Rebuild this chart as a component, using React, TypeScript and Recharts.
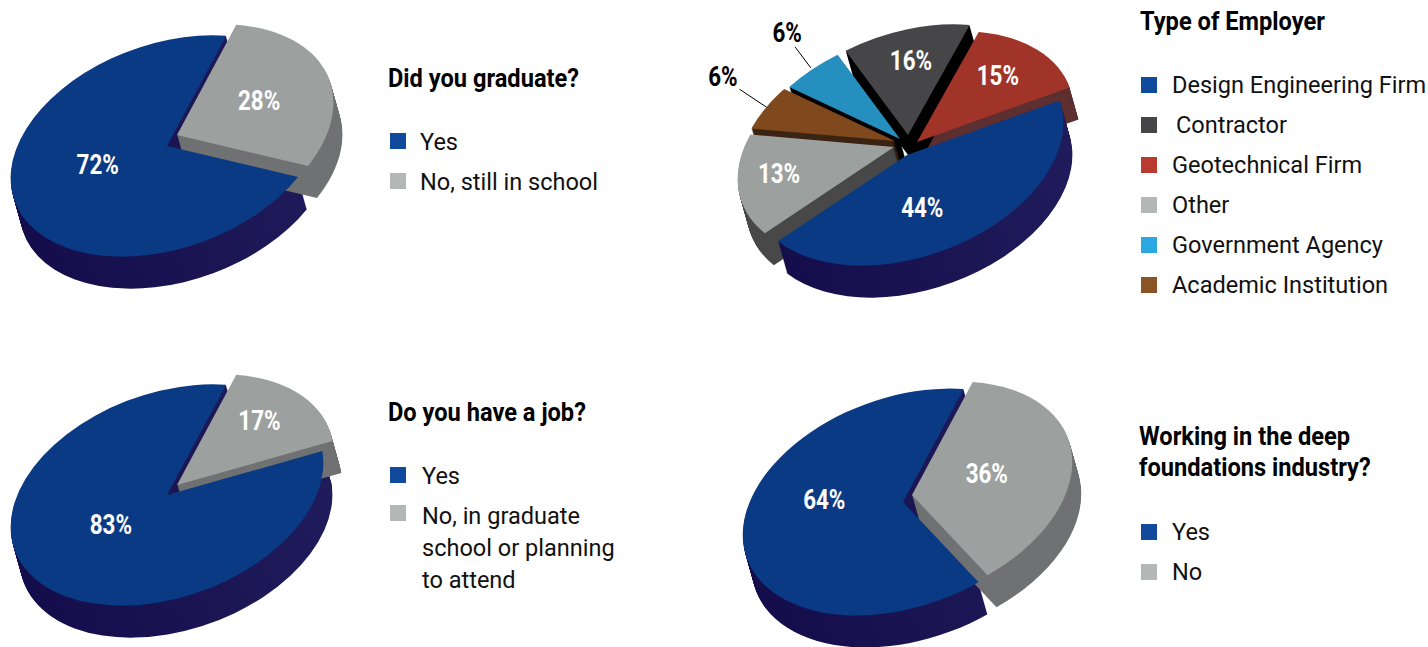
import { PieChart, Pie, Sector } from "recharts";

// ── Survey data ───────────────────────────────────────────────────────────────
const graduateNames = ["Yes", "No, still in school"];
const graduateValues = [72, 28];
const graduateLabels = ["72%", "28%"];

const jobNames = ["Yes", "No, in graduate school or planning to attend"];
const jobValues = [83, 17];
const jobLabels = ["83%", "17%"];

const industryNames = ["Yes", "No"];
const industryValues = [64, 36];
const industryLabels = ["64%", "36%"];

// Slice order runs round the pie from the right-hand edge.
const employerNames = ["Geotechnical Firm", "Contractor", "Government Agency", "Academic Institution", "Other", "Design Engineering Firm"];
// The slices as drawn: in the source the Contractor wedge is narrower than the
// Other wedge, although the printed labels say 16% and 13%.
const employerValues = [15, 13, 6, 6, 16, 44];
const employerLabels = ["15%", "16%", "6%", "6%", "13%", "44%"];

// ── Styles ────────────────────────────────────────────────────────────────────
const BLUE = "#0a3a84";
const GREY = "#9ca1a0";
const GREY_WALL = "#707172";
const NAVY_WALL = "navy-wall";
const FONT = "Roboto, sans-serif";

const TILT = 19.7;
const SQUASH = 0.631;
const DEPTH = 32;
const DRIFT = 9;

type PieSpec = {
  id: string;
  left: number;
  top: number;
  width: number;
  height: number;
  cx: number;
  cy: number;
  radius: number;
  startAngle: number;
  names: string[];
  values: number[];
  labels: string[];
  colors: string[];
  walls: string[];
  explode: number[][];
  labelFractions: number[];
  labelNudges: number[];
  // inner fraction, inner nudge, outer fraction, outer nudge
  leaders?: (number[] | null)[];
};

const twoSliceWalls = [NAVY_WALL, GREY_WALL];

const pies: PieSpec[] = [
  {
    id: "graduate", left: 0, top: 0, width: 360, height: 320, cx: 167, cy: 146, radius: 162, startAngle: 55,
    names: graduateNames, values: graduateValues, labels: graduateLabels,
    colors: [BLUE, GREY], walls: twoSliceWalls, explode: [[0, 0], [10, -11]],
    labelFractions: [0.445, 0.55], labelNudges: [-12, 0],
  },
  {
    id: "job", left: 0, top: 350, width: 360, height: 297, cx: 167, cy: 145, radius: 162, startAngle: 55,
    names: jobNames, values: jobValues, labels: jobLabels,
    colors: [BLUE, GREY], walls: twoSliceWalls, explode: [[0, 0], [10, -10]],
    labelFractions: [0.4, 0.69], labelNudges: [-11, 3],
  },
  {
    id: "employer", left: 700, top: 0, width: 400, height: 310, cx: 207, cy: 155, radius: 162, startAngle: 0,
    names: employerNames, values: employerValues, labels: employerLabels,
    colors: ["#a03428", "#464547", "#2590c0", "#80491d", GREY, BLUE],
    walls: ["#5e2f30", "#000000", "#000000", "#3c2412", "#484848", NAVY_WALL],
    explode: [[10, -13], [1, -20], [-7, -16], [-12, -14], [-13, -8], [0, 0]],
    labelFractions: [0.696, 0.7, 1.417, 1.444, 0.736, 0.535],
    labelNudges: [2.3, -1.7, -3.7, -6.3, -3, -13],
    leaders: [null, null, [1.02, -0.3, 1.265, -2.3], [1.0, -0.6, 1.27, -4.4], null, null],
  },
  {
    id: "industry", left: 730, top: 370, width: 370, height: 277, cx: 173, cy: 132, radius: 166, startAngle: 55,
    names: industryNames, values: industryValues, labels: industryLabels,
    colors: [BLUE, GREY], walls: twoSliceWalls, explode: [[0, 0], [9, -7]],
    labelFractions: [0.52, 0.47], labelNudges: [-22, 4],
  },
];

// ── Projection of the flat pie onto the tilted ellipse ────────────────────────
function faceTransform(cx: number, cy: number, ox: number, oy: number) {
  return `translate(${cx + ox} ${cy + oy}) rotate(${-TILT}) scale(1 ${SQUASH}) translate(${-cx} ${-cy})`;
}

function project(spec: PieSpec, idx: number, radius: number, angle: number) {
  const a = (angle * Math.PI) / 180;
  const t = (TILT * Math.PI) / 180;
  const x0 = radius * Math.cos(a);
  const y0 = -radius * Math.sin(a) * SQUASH;
  const [ox, oy] = spec.explode[idx];
  return {
    x: spec.cx + ox + x0 * Math.cos(t) + y0 * Math.sin(t),
    y: spec.cy + oy - x0 * Math.sin(t) + y0 * Math.cos(t),
  };
}

// ── Slice shapes ──────────────────────────────────────────────────────────────
function makeWall(spec: PieSpec) {
  return (props: any) => {
    const [ox, oy] = spec.explode[props.idx];
    const steps = [];
    for (let i = 1; i <= DEPTH; i++) steps.push(i);
    const wall = spec.walls[props.idx];
    const fill = wall === NAVY_WALL ? `url(#wall-${spec.id})` : wall;
    return (
      <g>
        {steps.map((i) => (
          <g key={i} transform={faceTransform(spec.cx, spec.cy, ox + (i * DRIFT) / DEPTH, oy + i)}>
            <Sector
              cx={spec.cx}
              cy={spec.cy}
              innerRadius={0}
              outerRadius={spec.radius}
              startAngle={props.startAngle}
              endAngle={props.endAngle}
              fill={fill}
              stroke="none"
            />
          </g>
        ))}
      </g>
    );
  };
}

function makeFace(spec: PieSpec) {
  return (props: any) => {
    const [ox, oy] = spec.explode[props.idx];
    return (
      <g transform={faceTransform(spec.cx, spec.cy, ox, oy)}>
        <Sector
          cx={spec.cx}
          cy={spec.cy}
          innerRadius={0}
          outerRadius={spec.radius}
          startAngle={props.startAngle}
          endAngle={props.endAngle}
          fill={spec.colors[props.idx]}
          stroke="none"
        />
      </g>
    );
  };
}

function makeLabel(spec: PieSpec) {
  return (props: any) => {
    const idx = props.idx;
    const pos = project(spec, idx, spec.radius * spec.labelFractions[idx], props.midAngle + spec.labelNudges[idx]);
    const leader = spec.leaders ? spec.leaders[idx] : null;
    const from = leader ? project(spec, idx, spec.radius * leader[0], props.midAngle + leader[1]) : null;
    const to = leader ? project(spec, idx, spec.radius * leader[2], props.midAngle + leader[3]) : null;
    return (
      <g>
        {from && to && <line x1={from.x} y1={from.y} x2={to.x} y2={to.y} stroke="#000" strokeWidth={1} />}
        <text
          transform={`translate(${pos.x} ${pos.y}) scale(0.83 1)`}
          textAnchor="middle"
          dominantBaseline="central"
          fontFamily={FONT}
          fontWeight={700}
          fontSize={27}
          fill={leader ? "#000" : "#fff"}
        >
          {spec.labels[idx]}
        </text>
      </g>
    );
  };
}

function Pie3D({ spec }: { spec: PieSpec }) {
  const rows = spec.names.map((name, i) => ({ name, value: spec.values[i], idx: i }));
  return (
    <div style={{ position: "absolute", left: spec.left, top: spec.top }}>
      <PieChart width={spec.width} height={spec.height} margin={{ top: 0, right: 0, bottom: 0, left: 0 }}>
        <defs>
          <linearGradient id={`wall-${spec.id}`} gradientUnits="userSpaceOnUse" x1={spec.cx - spec.radius} y1={0} x2={spec.cx + spec.radius} y2={0}>
            <stop offset="0%" stopColor="#150d4b" />
            <stop offset="100%" stopColor="#201c5b" />
          </linearGradient>
        </defs>
        <Pie
          data={rows}
          dataKey="value"
          cx={spec.cx}
          cy={spec.cy}
          outerRadius={spec.radius}
          startAngle={spec.startAngle}
          endAngle={spec.startAngle + 360}
          shape={makeWall(spec)}
          isAnimationActive={false}
        />
        <Pie
          data={rows}
          dataKey="value"
          cx={spec.cx}
          cy={spec.cy}
          outerRadius={spec.radius}
          startAngle={spec.startAngle}
          endAngle={spec.startAngle + 360}
          shape={makeFace(spec)}
          label={makeLabel(spec)}
          labelLine={false}
          isAnimationActive={false}
        />
      </PieChart>
    </div>
  );
}

// ── Titles and legends ────────────────────────────────────────────────────────
function Line({ x, y, bold, children }: { x: number; y: number; bold?: boolean; children: string }) {
  return (
    <div
      style={{
        position: "absolute",
        left: x,
        top: y - 16,
        height: 32,
        lineHeight: "32px",
        whiteSpace: "nowrap",
        fontFamily: FONT,
        fontSize: bold ? 25 : 24,
        fontWeight: bold ? 700 : 400,
        color: bold ? "#000" : "#111",
        transform: `scaleX(${bold ? 0.945 : 0.98})`,
        transformOrigin: "left center",
      }}
    >
      {children}
    </div>
  );
}

function Swatch({ x, y, color }: { x: number; y: number; color: string }) {
  return <div style={{ position: "absolute", left: x, top: y - 8, width: 16, height: 16, background: color }} />;
}

const SWATCH_BLUE = "#0f4a9c";
const SWATCH_GREY = "#b3b8b7";

export default function App() {
  return (
    <div style={{ position: "absolute", left: 0, top: 0, width: 1428, height: 647, overflow: "hidden", background: "#fff" }}>
      {pies.map((spec) => (
        <Pie3D key={spec.id} spec={spec} />
      ))}

      <Line x={388} y={79} bold>Did you graduate?</Line>
      <Swatch x={390} y={141} color={SWATCH_BLUE} />
      <Line x={420} y={142}>Yes</Line>
      <Swatch x={390} y={181} color={SWATCH_GREY} />
      <Line x={420} y={182}>No, still in school</Line>

      <Line x={388} y={413} bold>Do you have a job?</Line>
      <Swatch x={390} y={475} color={SWATCH_BLUE} />
      <Line x={422} y={476}>Yes</Line>
      <Swatch x={390} y={513} color={SWATCH_GREY} />
      <Line x={422} y={516}>No, in graduate</Line>
      <Line x={422} y={548}>school or planning</Line>
      <Line x={422} y={580}>to attend</Line>

      <Line x={1140} y={22} bold>Type of Employer</Line>
      <Swatch x={1141} y={85} color={SWATCH_BLUE} />
      <Line x={1172} y={85}>Design Engineering Firm</Line>
      <Swatch x={1141} y={125} color="#464547" />
      <Line x={1176} y={125}>Contractor</Line>
      <Swatch x={1141} y={165} color="#b83a30" />
      <Line x={1172} y={165}>Geotechnical Firm</Line>
      <Swatch x={1141} y={205} color={SWATCH_GREY} />
      <Line x={1172} y={205}>Other</Line>
      <Swatch x={1141} y={245} color="#2ca7df" />
      <Line x={1172} y={245}>Government Agency</Line>
      <Swatch x={1141} y={285} color="#8c5324" />
      <Line x={1172} y={285}>Academic Institution</Line>

      <Line x={1139} y={437} bold>Working in the deep</Line>
      <Line x={1139} y={468} bold>foundations industry?</Line>
      <Swatch x={1141} y={532} color={SWATCH_BLUE} />
      <Line x={1172} y={532}>Yes</Line>
      <Swatch x={1141} y={572} color={SWATCH_GREY} />
      <Line x={1172} y={572}>No</Line>
    </div>
  );
}
